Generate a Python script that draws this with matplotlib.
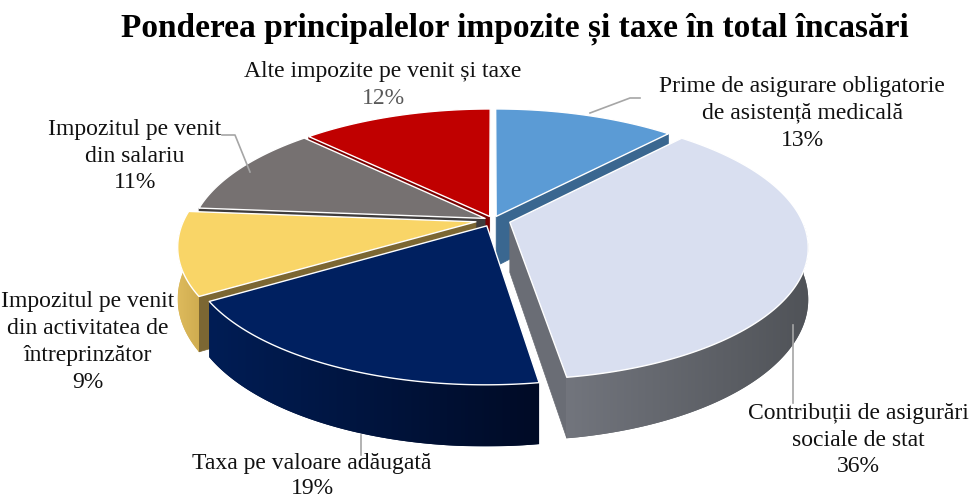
import numpy as np
import matplotlib
matplotlib.use("Agg")
import matplotlib.pyplot as plt
from matplotlib.patches import Polygon
from matplotlib.colors import to_rgb

plt.rcParams['font.family'] = ['Liberation Serif', 'DejaVu Serif']

title = "Ponderea principalelor impozite și taxe în total încasări"
labels = ["Prime de asigurare obligatorie\nde asistență medicală",
          "Contribuții de asigurări\nsociale de stat",
          "Taxa pe valoare adăugată",
          "Impozitul pe venit\ndin activitatea de\nîntreprinzător",
          "Impozitul pe venit\ndin salariu",
          "Alte impozite pe venit și taxe"]
values = [13, 36, 19, 9, 11, 12]

top_colors = ["#5B9BD5", "#D9DFF0", "#002060", "#F9D567", "#767171", "#C00000"]
face_colors = ["#3A6790", "#6A6D75", "#001642", "#7C6733", "#3F3C3C", "#7A0000"]
wall_light = ["#3A6790", "#72757D", "#001D55", "#DDBA5C", "#555151", "#8A0000"]
wall_dark = ["#2C4F70", "#505358", "#000B26", "#CFAC50", "#3F3C3C", "#6A0000"]
explode = [0.03, 0.06, 0.05, 0.06, 0.03, 0.03]

# label anchor (x, first line y, line step) and leader lines, in pixels
label_pos = [(802, 86, 27), (858, 413, 27), (312, 464, 25), (88, 302, 27),
             (135, 129, 27), (383, 71, 27)]
leaders = [[(590, 113), (630, 98), (640, 98)],
           [(793, 325), (793, 403)],
           [(361, 435), (361, 455)],
           [],
           [(222, 135), (235, 135), (250, 172)],
           []]

cx, cy, rx, ry, dep, K = 493, 220, 292, 128, 50, 0.18
# 3-D view skew of the pie (clockwise degrees from 12 o'clock -> shift)
skew_at = [0, 46.8, 176.4, 244.8, 277.2, 316.8, 360]
skew_by = [0, 4.5, 5.0, 6.5, 2.5, 1.5, 0]


def view_angle(c):
    return np.radians(90 - (c - np.interp(c, skew_at, skew_by)))


def proj(u, v, z):
    f = 1.0 / (1.0 + K * v)
    return cx + rx * u * f, cy - ry * v * f + dep * z * f


def mix(c1, c2, t):
    a, b = np.array(to_rgb(c1)), np.array(to_rgb(c2))
    return a + (b - a) * t


fig = plt.figure(figsize=(9.76, 5.03), dpi=100)
ax = fig.add_axes([0, 0, 1, 1])

# slice angles, clockwise from 12 o'clock
slices = []
c0 = 0.0
for i, v in enumerate(values):
    a1 = view_angle(c0)
    a2 = view_angle(c0 + v * 3.6)
    c0 += v * 3.6
    slices.append((i, a2, a1, (a1 + a2) / 2))

order = sorted(slices, key=lambda s: -np.sin(s[3]))

z = 1
for i, a2, a1, mid in order:
    eu, ev = explode[i] * np.cos(mid), explode[i] * np.sin(mid)
    phis = np.linspace(a2, a1, 150)
    us = eu + np.cos(phis)
    vs = ev + np.sin(phis)
    # radial cut faces that face the viewer
    for a, vis in ((a2, np.cos(a2) > 0.02), (a1, np.cos(a1) < -0.02)):
        if vis:
            pts = [proj(eu, ev, 0), proj(eu + np.cos(a), ev + np.sin(a), 0),
                   proj(eu + np.cos(a), ev + np.sin(a), 1), proj(eu, ev, 1)]
            ax.add_patch(Polygon(pts, closed=True, facecolor=face_colors[i],
                                 edgecolor=face_colors[i], lw=0.5, zorder=z))
            z += 1
    # outer wall, front half only, with a left-to-right shade
    front = np.sin(phis) < 0
    if front.sum() > 1:
        topw = [proj(u, v, 0) for u, v in zip(us[front], vs[front])]
        botw = [proj(u, v, 1) for u, v in zip(us[front], vs[front])]
        wall = Polygon(topw + botw[::-1], closed=True,
                       facecolor=mix(wall_light[i], wall_dark[i], 0.5),
                       edgecolor='none', zorder=z)
        ax.add_patch(wall)
        z += 1
        xs = [p[0] for p in topw + botw]
        ys = [p[1] for p in topw + botw]
        grad = np.array([mix(wall_light[i], wall_dark[i], t)
                         for t in np.linspace(0, 1, 256)])[None, :, :]
        im = ax.imshow(grad, extent=(min(xs), max(xs), max(ys), min(ys)),
                       aspect='auto', interpolation='bilinear', zorder=z)
        im.set_clip_path(wall)
        z += 1
    # top face
    top = [proj(eu, ev, 0)] + [proj(u, v, 0) for u, v in zip(us, vs)]
    ax.add_patch(Polygon(top, closed=True, facecolor=top_colors[i],
                         edgecolor="white", lw=1.0, joinstyle='round', zorder=z))
    z += 1

# leader lines
for pts in leaders:
    if pts:
        xs, ys = zip(*pts)
        ax.plot(xs, ys, color="#A6A6A6", lw=1.2, zorder=z)

# labels
for i, (x, y, step) in enumerate(label_pos):
    lines = labels[i].split("\n")
    for j, line in enumerate(lines):
        ax.text(x, y + j * step, line, ha='center', va='center',
                fontsize=17, color="#111111", zorder=z + 1)
    pc = "#595959" if i == 5 else "#111111"
    ax.text(x, y + len(lines) * step, f"{values[i]}%", ha='center',
            va='center', fontsize=17, color=pc, zorder=z + 1)

ax.text(515, 29, title, ha='center', va='center', fontsize=24,
        fontweight='bold', color="#000000", zorder=z + 1)

ax.set_xlim(0, 976)
ax.set_ylim(503, 0)
ax.axis('off')
fig.savefig("out.png", dpi=100)
